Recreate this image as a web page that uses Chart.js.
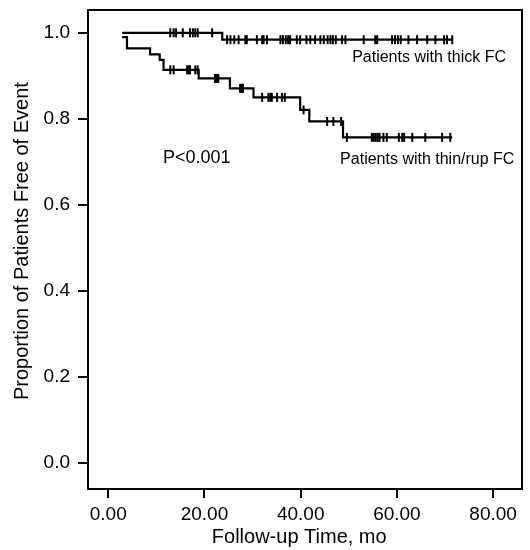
<!DOCTYPE html>
<html>
<head>
<meta charset="utf-8">
<script src="https://cdn.jsdelivr.net/npm/chart.js@4.4.1/dist/chart.umd.min.js"></script>
<style>
  html, body { margin: 0; padding: 0; background: #fff; }
</style>
</head>
<body>
<canvas id="km" width="530" height="550"></canvas>
<script>
// Kaplan-Meier steps: time (mo) of each step and survival after it
const thickTimes = [2.9, 23.7];
const thickSurv = [1.0, 0.984];
const thickCensor = [12.9, 13.6, 14.1, 15.5, 17.0, 17.6, 18.1, 18.6, 21.6, 24.7, 25.4, 26.2, 27.1,
  28.5, 28.8, 30.9, 32.0, 32.3, 33.0, 35.8, 36.3, 36.9, 37.4, 37.8, 39.2, 39.9, 41.2, 42.0, 43.0,
  44.1, 44.8, 45.6, 46.2, 46.7, 47.3, 48.6, 49.3, 53.1, 55.5, 55.9, 59.0, 59.6, 60.2, 60.8, 62.4,
  64.2, 66.3, 68.0, 69.8, 70.4, 71.5];

const thinTimes = [2.9, 3.9, 8.7, 10.7, 11.5, 18.8, 25.3, 30.2, 39.9, 41.8, 48.8];
const thinSurv = [0.99, 0.964, 0.950, 0.937, 0.914, 0.894, 0.871, 0.850, 0.821, 0.794, 0.757];
const thinCensor = [12.9, 13.6, 16.4, 16.8, 17.0, 18.1, 18.6, 22.2, 22.6, 22.9, 27.4, 27.8, 28.0,
  32.0, 33.3, 33.7, 34.0, 35.1, 36.1, 36.7, 40.6, 45.5, 46.8, 48.4, 49.6, 54.8, 55.2, 55.6, 56.0,
  56.4, 57.2, 57.9, 60.4, 61.1, 61.5, 63.2, 65.9, 69.4, 71.1];

const lastFollowUp = 71.5;
const xTicks = [0, 20, 40, 60, 80];
const yTicks = [0, 0.2, 0.4, 0.6, 0.8, 1.0];
const xTitle = 'Follow-up Time, mo';
const yTitle = 'Proportion of Patients Free of Event';

const FONT = '"Liberation Sans", Arial, Helvetica, sans-serif';

// value of the step curve at time t
function survivalAt(times, surv, t) {
  let s = surv[0];
  for (let i = 0; i < times.length; i++) {
    if (times[i] <= t) s = surv[i];
  }
  return s;
}

function stepPoints(times, surv) {
  const pts = times.map((t, i) => ({ x: t, y: surv[i] }));
  pts.push({ x: lastFollowUp, y: surv[surv.length - 1] });
  return pts;
}

function censorPoints(times, surv, cens) {
  return cens.map(t => ({ x: t, y: survivalAt(times, surv, t) }));
}

const curveStyle = {
  showLine: true, stepped: 'before', borderColor: '#000', borderWidth: 2.2,
  pointRadius: 0, fill: false
};
const censorStyle = {
  showLine: false, pointStyle: 'line', rotation: 90, pointRadius: 4.5,
  pointBorderWidth: 2, pointBorderColor: '#000', pointBackgroundColor: '#000'
};

// frame round the plot, axis titles and the text labels inside it
const frameAndLabels = {
  id: 'frameAndLabels',
  afterDraw(chart) {
    const { ctx, chartArea: a, scales: { x, y } } = chart;
    ctx.save();
    ctx.strokeStyle = '#000';
    ctx.lineWidth = 2;
    ctx.strokeRect(a.left, a.top, a.right - a.left, a.bottom - a.top);
    ctx.fillStyle = '#000';
    ctx.textBaseline = 'middle';
    ctx.font = '16px ' + FONT;
    ctx.fillText('Patients with thick FC', x.getPixelForValue(50.7), y.getPixelForValue(0.942));
    ctx.fillText('Patients with thin/rup FC', x.getPixelForValue(48.2), y.getPixelForValue(0.705));
    ctx.font = '18px ' + FONT;
    ctx.fillText('P<0.001', x.getPixelForValue(11.4), y.getPixelForValue(0.709));

    // axis titles, a little off the plot centre as in the original
    ctx.font = '20px ' + FONT;
    ctx.textAlign = 'center';
    ctx.fillText(xTitle, x.getPixelForValue(39.7), 537);
    ctx.translate(22, y.getPixelForValue(0.516));
    ctx.rotate(-Math.PI / 2);
    ctx.fillText(yTitle, 0, 0);
    ctx.restore();
  }
};

new Chart(document.getElementById('km'), {
  type: 'scatter',
  data: {
    datasets: [
      Object.assign({ data: stepPoints(thickTimes, thickSurv) }, curveStyle),
      Object.assign({ data: censorPoints(thickTimes, thickSurv, thickCensor) }, censorStyle),
      Object.assign({ data: stepPoints(thinTimes, thinSurv) }, curveStyle),
      Object.assign({ data: censorPoints(thinTimes, thinSurv, thinCensor) }, censorStyle)
    ]
  },
  options: {
    responsive: false,
    animation: false,
    layout: { padding: { left: 0, right: 8, top: 10, bottom: 0 } },
    plugins: { legend: { display: false }, tooltip: { enabled: false } },
    scales: {
      x: {
        type: 'linear', min: -4.2, max: 86,
        afterBuildTicks: s => { s.ticks = xTicks.map(v => ({ value: v })); },
        afterFit: s => { s.height = 61; s.paddingLeft = 0; s.paddingRight = 0; },
        border: { display: false },
        grid: { drawOnChartArea: false, drawTicks: true, tickLength: 9, color: '#000', lineWidth: 2 },
        ticks: {
          color: '#000', padding: 5, maxRotation: 0,
          font: { family: FONT, size: 19 },
          callback: v => Number(v).toFixed(2)
        }
      },
      y: {
        type: 'linear', min: -0.06, max: 1.053,
        afterBuildTicks: s => { s.ticks = yTicks.map(v => ({ value: v })); },
        afterFit: s => { s.width = 88; s.paddingTop = 0; s.paddingBottom = 0; },
        border: { display: false },
        grid: { drawOnChartArea: false, drawTicks: true, tickLength: 10, color: '#000', lineWidth: 2 },
        ticks: {
          color: '#000', padding: 8,
          font: { family: FONT, size: 19 },
          callback: v => Number(v).toFixed(1)
        }
      }
    }
  },
  plugins: [frameAndLabels]
});
</script>
</body>
</html>
